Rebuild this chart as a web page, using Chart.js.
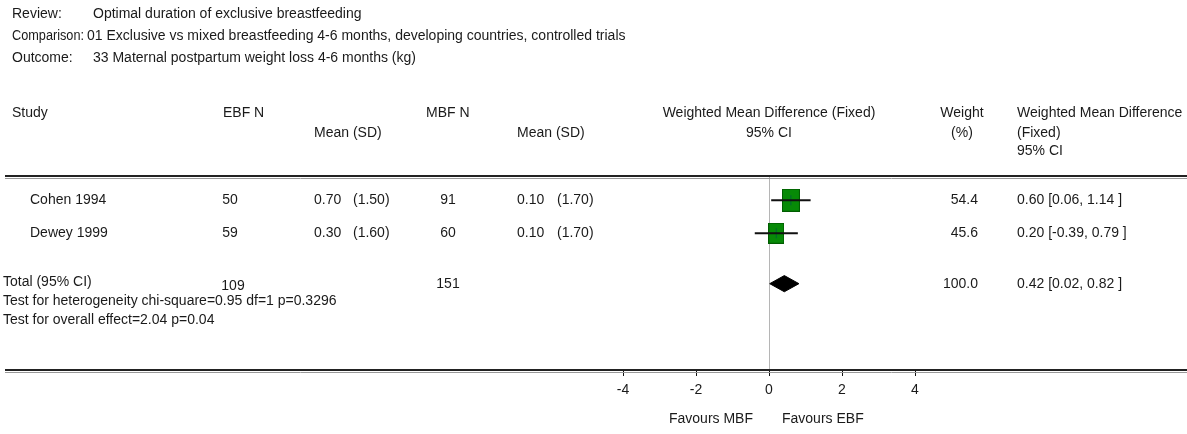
<!DOCTYPE html>
<html>
<head>
<meta charset="utf-8">
<script src="https://cdn.jsdelivr.net/npm/chart.js@4"></script>
<style>
  body { margin: 0; background: #fff; }
  #wrap { width: 1187px; height: 434px; }
</style>
</head>
<body>
<div id="wrap"><canvas id="forest" width="1187" height="434"></canvas></div>
<script>
// Study data
const studies = ['Cohen 1994', 'Dewey 1999'];
const ebfN = [50, 59];
const ebfMean = [0.70, 0.30];
const ebfSD = [1.50, 1.60];
const mbfN = [91, 60];
const mbfMean = [0.10, 0.10];
const mbfSD = [1.70, 1.70];
const weights = [54.4, 45.6];
const wmd = [0.60, 0.20];
const ciLow = [0.06, -0.39];
const ciHigh = [1.14, 0.79];

// Pooled result
const totalN = [109, 151];
const totalWeight = 100.0;
const totalEffect = [0.42, 0.02, 0.82]; // estimate, low, high

const xTicks = [-4, -2, 0, 2, 4];

const headerLines = [
  ['Review:', 'Optimal duration of exclusive breastfeeding'],
  ['Comparison:', '01 Exclusive vs mixed breastfeeding 4-6 months, developing countries, controlled trials'],
  ['Outcome:', '33 Maternal postpartum weight loss 4-6 months (kg)']
];
const heterogeneity = 'Test for heterogeneity chi-square=0.95 df=1 p=0.3296';
const overallEffect = 'Test for overall effect=2.04 p=0.04';

// layout: row positions on the hidden y scale
const rowPos = [0.75, 1.77, 3.33];
const FONT_FAMILY = '"Liberation Sans", Arial, sans-serif';
const FONT = '14px ' + FONT_FAMILY;
const TEXT = '#1a1a1a';

function boxImage(w) {
  const c = document.createElement('canvas');
  const bw = Math.round(w * 0.34);
  const bh = Math.round(bw * 1.3);
  c.width = bw; c.height = bh;
  const g = c.getContext('2d');
  g.fillStyle = '#078a07';
  g.fillRect(0, 0, bw, bh);
  g.strokeStyle = '#005c00';
  g.lineWidth = 1;
  g.strokeRect(0.5, 0.5, bw - 1, bh - 1);
  return c;
}

const f2 = v => v.toFixed(2);

const ciDatasets = studies.map((s, i) => ({
  label: s + ' CI',
  data: [{ x: ciLow[i], y: rowPos[i] }, { x: ciHigh[i], y: rowPos[i] }],
  showLine: true,
  borderColor: '#111',
  borderWidth: 2,
  pointRadius: 0
}));

const dh = 0.25;
const diamond = {
  label: 'Total',
  data: [
    { x: totalEffect[1], y: rowPos[2] },
    { x: totalEffect[0], y: rowPos[2] - dh },
    { x: totalEffect[2], y: rowPos[2] },
    { x: totalEffect[0], y: rowPos[2] + dh },
    { x: totalEffect[1], y: rowPos[2] }
  ],
  showLine: true,
  fill: 'shape',
  backgroundColor: '#000',
  borderColor: '#000',
  borderWidth: 1,
  pointRadius: 0
};

const marks = {
  label: 'estimate',
  data: wmd.map((v, i) => ({ x: v, y: rowPos[i] })),
  pointStyle: 'line',
  rotation: 90,
  radius: 5,
  borderColor: '#063',
  borderWidth: 1
};

const boxes = {
  label: 'WMD',
  data: wmd.map((v, i) => ({ x: v, y: rowPos[i] })),
  pointStyle: weights.map(boxImage),
  radius: 10
};

function line(ctx, x1, x2, y) {
  ctx.save();
  ctx.strokeStyle = '#222';
  ctx.lineWidth = 2;
  ctx.beginPath(); ctx.moveTo(x1, y); ctx.lineTo(x2, y); ctx.stroke();
  ctx.strokeStyle = '#999';
  ctx.lineWidth = 1;
  ctx.beginPath(); ctx.moveTo(x1, y + 2.5); ctx.lineTo(x2, y + 2.5); ctx.stroke();
  ctx.restore();
}

const tablePlugin = {
  id: 'table',
  afterDraw(chart) {
    const ctx = chart.ctx;
    const area = chart.chartArea;
    const ys = chart.scales.y;
    const xs = chart.scales.x;
    ctx.save();
    ctx.font = FONT;
    ctx.fillStyle = TEXT;
    ctx.textBaseline = 'middle';

    // header block
    headerLines.forEach((h, i) => {
      ctx.textAlign = 'left';
      ctx.fillText(h[0], 12, 14 + i * 22, 72);
      ctx.fillText(h[1], i === 1 ? 87 : 93, 14 + i * 22);
    });

    // column headings
    const h1 = 113, h2 = 133, h3 = 151;
    ctx.textAlign = 'left';
    ctx.fillText('Study', 12, h1);
    ctx.fillText('EBF N', 223, h1);
    ctx.fillText('Mean (SD)', 314, h2);
    ctx.fillText('MBF N', 426, h1);
    ctx.fillText('Mean (SD)', 517, h2);
    ctx.textAlign = 'center';
    const zx = xs.getPixelForValue(0);
    ctx.fillText('Weighted Mean Difference (Fixed)', zx, h1);
    ctx.fillText('95% CI', zx, h2);
    ctx.fillText('Weight', 962, h1);
    ctx.fillText('(%)', 962, h2);
    ctx.textAlign = 'left';
    ctx.fillText('Weighted Mean Difference', 1017, h1, 166);
    ctx.fillText('(Fixed)', 1017, h2);
    ctx.fillText('95% CI', 1017, h3);

    // study rows
    studies.forEach((s, i) => {
      const y = ys.getPixelForValue(rowPos[i]);
      ctx.textAlign = 'left';
      ctx.fillText(s, 30, y);
      ctx.textAlign = 'center';
      ctx.fillText(String(ebfN[i]), 230, y);
      ctx.fillText(String(mbfN[i]), 448, y);
      ctx.textAlign = 'left';
      ctx.fillText(f2(ebfMean[i]), 314, y);
      ctx.fillText('(' + f2(ebfSD[i]) + ')', 353, y);
      ctx.fillText(f2(mbfMean[i]), 517, y);
      ctx.fillText('(' + f2(mbfSD[i]) + ')', 557, y);
      ctx.textAlign = 'right';
      ctx.fillText(weights[i].toFixed(1), 978, y);
      ctx.textAlign = 'left';
      ctx.fillText(f2(wmd[i]) + ' [' + f2(ciLow[i]) + ', ' + f2(ciHigh[i]) + ' ]', 1017, y);
    });

    // total row
    const ty = ys.getPixelForValue(rowPos[2]);
    ctx.textAlign = 'left';
    ctx.fillText('Total (95% CI)', 3, ty - 2);
    ctx.textAlign = 'center';
    ctx.fillText(String(totalN[0]), 233, ty + 2);
    ctx.fillText(String(totalN[1]), 448, ty);
    ctx.textAlign = 'right';
    ctx.fillText(totalWeight.toFixed(1), 978, ty);
    ctx.textAlign = 'left';
    ctx.fillText(f2(totalEffect[0]) + ' [' + f2(totalEffect[1]) + ', ' + f2(totalEffect[2]) + ' ]', 1017, ty);
    ctx.fillText(heterogeneity, 3, ty + 17);
    ctx.fillText(overallEffect, 3, ty + 36);

    // favours labels
    ctx.textAlign = 'right';
    ctx.fillText('Favours MBF', zx - 16, 419);
    ctx.textAlign = 'left';
    ctx.fillText('Favours EBF', zx + 13, 419);

    // rules
    line(ctx, 5, 1187, area.top);
    line(ctx, 5, 1187, area.bottom);
    ctx.restore();
  }
};

new Chart(document.getElementById('forest'), {
  type: 'scatter',
  data: { datasets: [...ciDatasets, marks, boxes, diamond] },
  options: {
    responsive: false,
    animation: false,
    events: [],
    layout: { padding: { left: 623, right: 272, top: 176, bottom: 34 } },
    plugins: { legend: { display: false }, tooltip: { enabled: false } },
    scales: {
      x: {
        type: 'linear',
        min: -4,
        max: 4,
        afterBuildTicks: s => { s.ticks = xTicks.map(v => ({ value: v })); },
        afterFit: s => { s.height = 30; },
        border: { display: false },
        grid: {
          color: c => (c.tick && c.tick.value === 0 ? '#b5b5b5' : 'rgba(0,0,0,0)'),
          tickColor: '#111',
          tickLength: 6,
          lineWidth: 1
        },
        ticks: {
          color: TEXT,
          padding: 6,
          font: { family: FONT_FAMILY, size: 14 }
        }
      },
      y: { type: 'linear', display: false, min: 0, max: 6, reverse: true }
    }
  },
  plugins: [tablePlugin]
});
</script>
</body>
</html>
